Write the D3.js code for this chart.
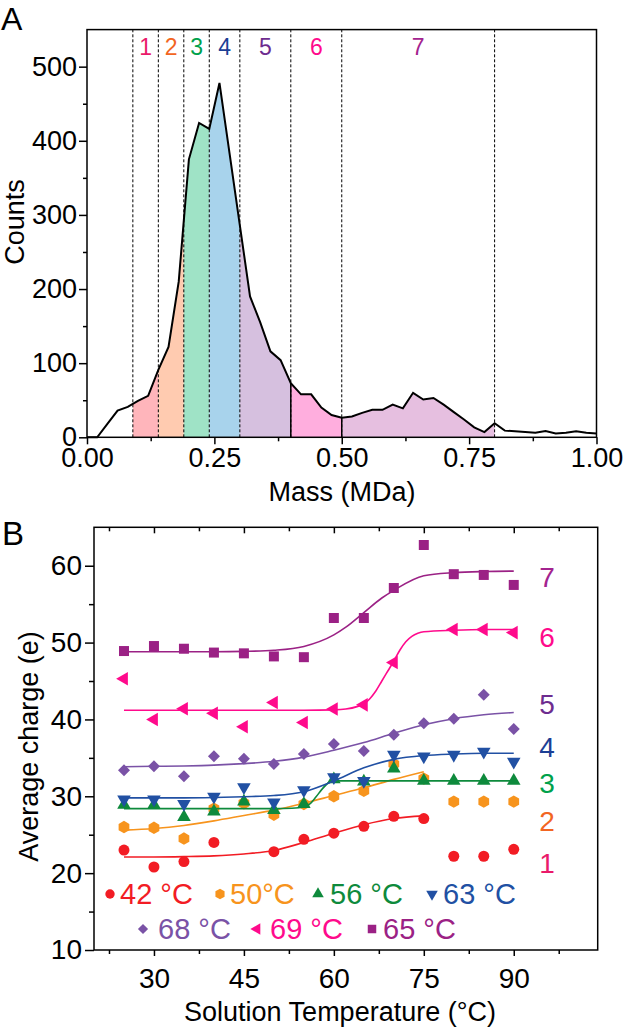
<!DOCTYPE html>
<html>
<head>
<meta charset="utf-8">
<script src="https://cdn.jsdelivr.net/npm/d3@7"></script>
<style>
body { margin: 0; background: #fff; }
</style>
</head>
<body>
<div id="chart"></div>
<script>
// panel A - mass distribution
let massBins = [0.00, 0.02, 0.04, 0.06, 0.08, 0.10, 0.12, 0.14, 0.16, 0.18, 0.20, 0.22, 0.24, 0.26, 0.28, 0.30,
    0.32, 0.34, 0.36, 0.38, 0.40, 0.42, 0.44, 0.46, 0.48, 0.50, 0.52, 0.54, 0.56, 0.58, 0.60, 0.62, 0.64,
    0.66, 0.68, 0.70, 0.72, 0.74, 0.76, 0.78, 0.80, 0.82, 0.84, 0.86, 0.88, 0.90, 0.92, 0.94, 0.96, 0.98, 1.00]
let counts = [0, 0, 18, 36, 41, 49, 56, 91, 122, 210, 375, 424, 416, 478, 382, 286,
    190, 155, 116, 104, 73, 58, 58, 40, 30, 26.5, 28, 33, 37, 37, 44, 39, 60,
    51, 53, 44, 34, 24, 13.5, 7, 19, 9, 8, 7, 6, 8.5, 5, 6, 8, 6, 5]
let fractionEdges = [0.09, 0.14, 0.19, 0.24, 0.30, 0.40, 0.50, 0.80]
let fractionNames = ['1', '2', '3', '4', '5', '6', '7']
let solidEdges = [0.40, 0.50]
let countTicks = [0, 100, 200, 300, 400, 500]
let massTicks = [0, 0.25, 0.5, 0.75, 1]

// panel B - charge vs temperature
let temps = [25, 30, 35, 40, 45, 50, 55, 60, 65, 70, 75, 80, 85, 90]
let charge42 = [23.0, 20.8, 21.5, 24.0, null, 22.8, 24.4, 25.2, 26.1, 27.4, 27.1, 22.2, 22.2, 23.1]
let charge50 = [26.0, 25.9, 24.5, 28.4, 29.1, 27.6, 29.0, 30.0, 30.7, 34.2, 32.3, 29.3, 29.3, 29.3]
let charge56 = [28.9, 28.9, 27.3, 28.0, 29.3, 28.2, 29.0, 32.2, 31.9, 33.6, 32.0, 32.0, 32.0, 32.0]
let charge63 = [29.6, 29.6, 29.0, 29.95, 31.2, 29.2, 30.8, 32.5, 32.0, 35.4, 35.2, 35.4, 35.8, 34.5]
let charge68 = [33.4, 33.9, 32.6, 35.2, 34.9, 34.2, 35.5, 36.8, 35.9, 38.0, 39.5, 40.1, 43.2, 38.75]
let charge69 = [45.3, 40.0, 41.4, 40.8, 39.05, 42.2, 39.6, 41.35, 41.9, 47.4, null, 51.7, 51.7, 51.3]
let charge65 = [48.9, 49.55, 49.2, 48.7, 48.6, 48.2, 48.1, 53.2, 53.2, 57.1, 62.7, 58.9, 58.8, 57.5]

// fitted curves
let fitT42 = [25, 30, 35, 40, 45, 50, 55, 60, 65, 70, 75]
let fit42 = [22.1, 22.1, 22.15, 22.25, 22.5, 22.95, 24.0, 25.2, 26.3, 27.1, 27.45]
let fitT50 = [25, 30, 35, 40, 45, 50, 55, 60, 65, 70, 75]
let fit50 = [25.6, 25.8, 26.2, 26.8, 27.5, 28.2, 29.1, 30.1, 31.1, 32.2, 33.2]
let fitT56 = [25, 35, 45, 50, 53, 55, 56, 57, 58, 59, 60, 65, 75, 90]
let fit56 = [28.4, 28.4, 28.4, 28.4, 28.45, 28.6, 29.0, 29.9, 30.9, 31.7, 32.0, 32.0, 32.0, 32.0]
let fitT63 = [25, 30, 35, 40, 45, 50, 55, 60, 65, 70, 75, 80, 85, 90]
let fit63 = [29.8, 29.8, 29.8, 29.85, 29.95, 30.1, 30.6, 32.0, 33.7, 34.8, 35.3, 35.5, 35.6, 35.6]
let fitT68 = [25, 30, 35, 40, 45, 50, 55, 60, 65, 70, 75, 80, 85, 90]
let fit68 = [33.85, 33.9, 33.95, 34.05, 34.25, 34.55, 35.1, 36.0, 37.0, 38.2, 39.3, 40.1, 40.6, 40.9]
let fitT69 = [25, 35, 45, 55, 60, 62, 64, 65, 66, 67, 68, 69, 70, 71, 72, 73, 74, 75, 80, 85, 90]
let fit69 = [41.2, 41.2, 41.2, 41.2, 41.25, 41.35, 41.7, 42.0, 42.7, 43.7, 45.0, 46.3, 47.6, 49.0, 50.1, 50.8, 51.2, 51.4, 51.6, 51.7, 51.7]
let fitT65 = [25, 30, 35, 40, 45, 50, 55, 60, 62, 65, 68, 70, 75, 80, 85, 90]
let fit65 = [48.8, 48.8, 48.8, 48.8, 48.85, 49.0, 49.5, 51.0, 52.0, 53.9, 55.8, 56.8, 58.7, 59.1, 59.25, 59.3]

let seriesNames = ['42 °C', '50°C', '56 °C', '63 °C', '68 °C', '69 °C', '65 °C']
let chargeTicks = [10, 20, 30, 40, 50, 60]
let tempTicks = [30, 45, 60, 75, 90]

// styles / layout
let font = "'Liberation Sans', Arial, sans-serif"
let fracColors = ['#ea1a6a', '#f26522', '#00a14b', '#1c3f95', '#6d2c8f', '#ff0a8c', '#a3238f']
let fracFills = ['#ffb5bb', '#ffcbb0', '#9fe3c6', '#a8d3ec', '#d6c0df', '#ffaede', '#e6bfe0']
let seriesColors = ['#f21c24', '#f7941d', '#0e8a3c', '#2150a3', '#7a52a6', '#ff0a8c', '#9b2185']
let seriesShapes = ['circle', 'hexagon', 'up', 'down', 'diamond', 'left', 'square']
let rightLabelY = [21.3, 26.8, 31.7, 36.4, 42.0, 50.8, 58.6]
let legendPos = [[110, 120, 894], [220, 230, 894], [318, 330, 894], [432, 443, 894],
    [143, 158, 929], [257, 270, 929], [372, 383, 929]]

let svg = d3.select('#chart')
.append('svg')
.attr('width', 629)
.attr('height', 1028)

function styleAxis(g, size) {
    g.attr('font-family', font).attr('font-size', size)
    g.selectAll('line').attr('stroke', '#000').attr('stroke-width', 1.5)
    g.select('.domain').remove()
    g.selectAll('text').attr('fill', '#000')
}

function markerPath(shape, s) {
    if (shape == 'circle') return d3.symbol(d3.symbolCircle, 95 * s * s)()
    if (shape == 'square') return d3.symbol(d3.symbolSquare, 100 * s * s)()
    if (shape == 'diamond') return d3.symbol(d3.symbolSquare, 72 * s * s)()
    if (shape == 'hexagon') {
        let r = 6.2 * s
        let pts = d3.range(6).map(k => {
            let a = Math.PI / 3 * k - Math.PI / 2
            return [r * Math.cos(a), r * Math.sin(a)]
        })
        return d3.line()(pts) + 'Z'
    }
    return d3.symbol(d3.symbolTriangle, 80 * s * s)()
}

function markerRotate(shape) {
    if (shape == 'down') return 180
    if (shape == 'left') return -90
    if (shape == 'diamond') return 45
    return 0
}

// ---------- panel A ----------
let xA = d3.scaleLinear().domain([0, 1]).range([87, 596.5])
let yA = d3.scaleLinear().domain([0, 550]).range([437.3, 29.6])

let gA = svg.append('g').attr('class', 'panel-a')

let histPoints = massBins.map((m, i) => [m, counts[i]])

let area = d3.area()
.x(d => xA(d[0]))
.y0(yA(0))
.y1(d => yA(d[1]))

fractionEdges.slice(0, -1).forEach((e, i) => {
    let next = fractionEdges[i + 1]
    gA.append('clipPath')
    .attr('id', 'clip-' + i)
    .append('rect')
    .attr('x', xA(e))
    .attr('y', yA(550))
    .attr('width', xA(next) - xA(e))
    .attr('height', yA(0) - yA(550))

    gA.append('path')
    .datum(histPoints)
    .attr('d', area)
    .attr('fill', fracFills[i])
    .attr('clip-path', `url(#clip-${i})`)
})

gA.selectAll('.edge')
.data(fractionEdges)
.join('line')
.attr('class', 'edge')
.attr('x1', d => xA(d))
.attr('x2', d => xA(d))
.attr('y1', yA(0))
.attr('y2', yA(550))
.attr('stroke', '#000')
.attr('stroke-width', 1)
.attr('stroke-dasharray', '3,2')

gA.selectAll('.solid-edge')
.data(solidEdges)
.join('line')
.attr('class', 'solid-edge')
.attr('x1', d => xA(d))
.attr('x2', d => xA(d))
.attr('y1', yA(0))
.attr('y2', d => yA(counts[massBins.findIndex(m => Math.abs(m - d) < 1e-6)]))
.attr('stroke', '#000')
.attr('stroke-width', 1.5)

gA.append('path')
.datum(histPoints)
.attr('d', d3.line().x(d => xA(d[0])).y(d => yA(d[1])))
.attr('fill', 'none')
.attr('stroke', '#000')
.attr('stroke-width', 2)

gA.selectAll('.frac-label')
.data(fractionNames)
.join('text')
.attr('class', 'frac-label')
.attr('x', (d, i) => xA((fractionEdges[i] + fractionEdges[i + 1]) / 2))
.attr('y', 55)
.attr('text-anchor', 'middle')
.attr('font-family', font)
.attr('font-size', 23)
.attr('fill', (d, i) => fracColors[i])
.text(d => d)

gA.append('rect')
.attr('x', xA(0))
.attr('y', yA(550))
.attr('width', xA(1) - xA(0))
.attr('height', yA(0) - yA(550))
.attr('fill', 'none')
.attr('stroke', '#000')
.attr('stroke-width', 1.5)

gA.append('g')
.attr('transform', `translate(0,${yA(0)})`)
.call(d3.axisBottom(xA).tickValues(massTicks).tickFormat(d3.format('.2f')).tickSize(7).tickPadding(4).tickSizeOuter(0))
.call(g => styleAxis(g, 27))

gA.append('g')
.attr('transform', `translate(0,${yA(0)})`)
.call(d3.axisBottom(xA).tickValues([0.125, 0.375, 0.625, 0.875]).tickFormat('').tickSize(4).tickSizeOuter(0))
.call(g => styleAxis(g, 27))

gA.append('g')
.attr('transform', `translate(${xA(0)},0)`)
.call(d3.axisLeft(yA).tickValues(countTicks).tickSize(8).tickPadding(2).tickSizeOuter(0))
.call(g => styleAxis(g, 27))

gA.append('g')
.attr('transform', `translate(${xA(0)},0)`)
.call(d3.axisLeft(yA).tickValues([50, 150, 250, 350, 450]).tickFormat('').tickSize(4).tickSizeOuter(0))
.call(g => styleAxis(g, 27))

gA.append('text')
.attr('x', 342)
.attr('y', 501)
.attr('text-anchor', 'middle')
.attr('font-family', font)
.attr('font-size', 27)
.text('Mass (MDa)')

gA.append('text')
.attr('transform', 'translate(23.5,222) rotate(-90)')
.attr('text-anchor', 'middle')
.attr('font-family', font)
.attr('font-size', 27)
.text('Counts')

svg.append('text')
.attr('x', 1)
.attr('y', 30)
.attr('font-family', font)
.attr('font-size', 32)
.text('A')

// ---------- panel B ----------
let xB = d3.scaleLinear().domain([20, 104]).range([94, 597.7])
let yB = d3.scaleLinear().domain([10, 65]).range([950, 527.3])

let gB = svg.append('g').attr('class', 'panel-b')

let chargeSets = [charge42, charge50, charge56, charge63, charge68, charge69, charge65]
let fitTemps = [fitT42, fitT50, fitT56, fitT63, fitT68, fitT69, fitT65]
let fitValues = [fit42, fit50, fit56, fit63, fit68, fit69, fit65]

let series = seriesNames.map((name, i) => ({
    name: name,
    color: seriesColors[i],
    shape: seriesShapes[i],
    points: temps.map((t, j) => [t, chargeSets[i][j]]).filter(p => p[1] != null),
    fit: fitTemps[i].map((t, j) => [t, fitValues[i][j]])
}))
// console.log('series', series)

let fitLine = d3.line()
.x(d => xB(d[0]))
.y(d => yB(d[1]))
.curve(d3.curveMonotoneX)

series.forEach(s => {
    gB.append('path')
    .datum(s.fit)
    .attr('d', fitLine)
    .attr('fill', 'none')
    .attr('stroke', s.color)
    .attr('stroke-width', 1.6)

    gB.append('g')
    .selectAll('path')
    .data(s.points)
    .join('path')
    .attr('d', markerPath(s.shape, 1))
    .attr('transform', d => `translate(${xB(d[0])},${yB(d[1])}) rotate(${markerRotate(s.shape)})`)
    .attr('fill', s.color)
})

gB.selectAll('.right-label')
.data(fractionNames)
.join('text')
.attr('class', 'right-label')
.attr('x', 547)
.attr('y', (d, i) => yB(rightLabelY[i]))
.attr('dy', '0.36em')
.attr('text-anchor', 'middle')
.attr('font-family', font)
.attr('font-size', 28)
.attr('fill', (d, i) => fracColors[i])
.text(d => d)

// legend
let legend = gB.selectAll('.legend')
.data(series)
.join('g')
.attr('class', 'legend')

legend.append('path')
.attr('d', d => markerPath(d.shape, 0.85))
.attr('transform', (d, i) => `translate(${legendPos[i][0]},${legendPos[i][2]}) rotate(${markerRotate(d.shape)})`)
.attr('fill', d => d.color)

legend.append('text')
.attr('x', (d, i) => legendPos[i][1])
.attr('y', (d, i) => legendPos[i][2])
.attr('dy', '0.36em')
.attr('font-family', font)
.attr('font-size', 29)
.attr('fill', d => d.color)
.text(d => d.name)

gB.append('rect')
.attr('x', xB(20))
.attr('y', yB(65))
.attr('width', xB(104) - xB(20))
.attr('height', yB(10) - yB(65))
.attr('fill', 'none')
.attr('stroke', '#000')
.attr('stroke-width', 1.5)

let minorTemps = [22.5, 37.5, 52.5, 67.5, 82.5, 97.5]

gB.append('g')
.attr('transform', `translate(0,${yB(10)})`)
.call(d3.axisBottom(xB).tickValues(tempTicks).tickSize(6).tickPadding(12).tickSizeOuter(0))
.call(g => styleAxis(g, 28))

gB.append('g')
.attr('transform', `translate(0,${yB(10)})`)
.call(d3.axisBottom(xB).tickValues(minorTemps).tickFormat('').tickSize(4).tickSizeOuter(0))
.call(g => styleAxis(g, 28))

gB.append('g')
.attr('transform', `translate(0,${yB(65)})`)
.call(d3.axisTop(xB).tickValues(tempTicks).tickFormat('').tickSize(-6).tickSizeOuter(0))
.call(g => styleAxis(g, 28))

gB.append('g')
.attr('transform', `translate(0,${yB(65)})`)
.call(d3.axisTop(xB).tickValues(minorTemps).tickFormat('').tickSize(-4).tickSizeOuter(0))
.call(g => styleAxis(g, 28))

gB.append('g')
.attr('transform', `translate(${xB(20)},0)`)
.call(d3.axisLeft(yB).tickValues(chargeTicks).tickSize(9).tickPadding(3).tickSizeOuter(0))
.call(g => styleAxis(g, 28))

gB.append('g')
.attr('transform', `translate(${xB(20)},0)`)
.call(d3.axisLeft(yB).tickValues([15, 25, 35, 45, 55]).tickFormat('').tickSize(5).tickSizeOuter(0))
.call(g => styleAxis(g, 28))

gB.append('text')
.attr('x', 340)
.attr('y', 1021)
.attr('text-anchor', 'middle')
.attr('font-family', font)
.attr('font-size', 27)
.text('Solution Temperature (°C)')

gB.append('text')
.attr('transform', 'translate(38,746.5) rotate(-90)')
.attr('text-anchor', 'middle')
.attr('font-family', font)
.attr('font-size', 27)
.text('Average charge (e)')

svg.append('text')
.attr('x', 2)
.attr('y', 545)
.attr('font-family', font)
.attr('font-size', 33)
.text('B')
</script>
</body>
</html>
